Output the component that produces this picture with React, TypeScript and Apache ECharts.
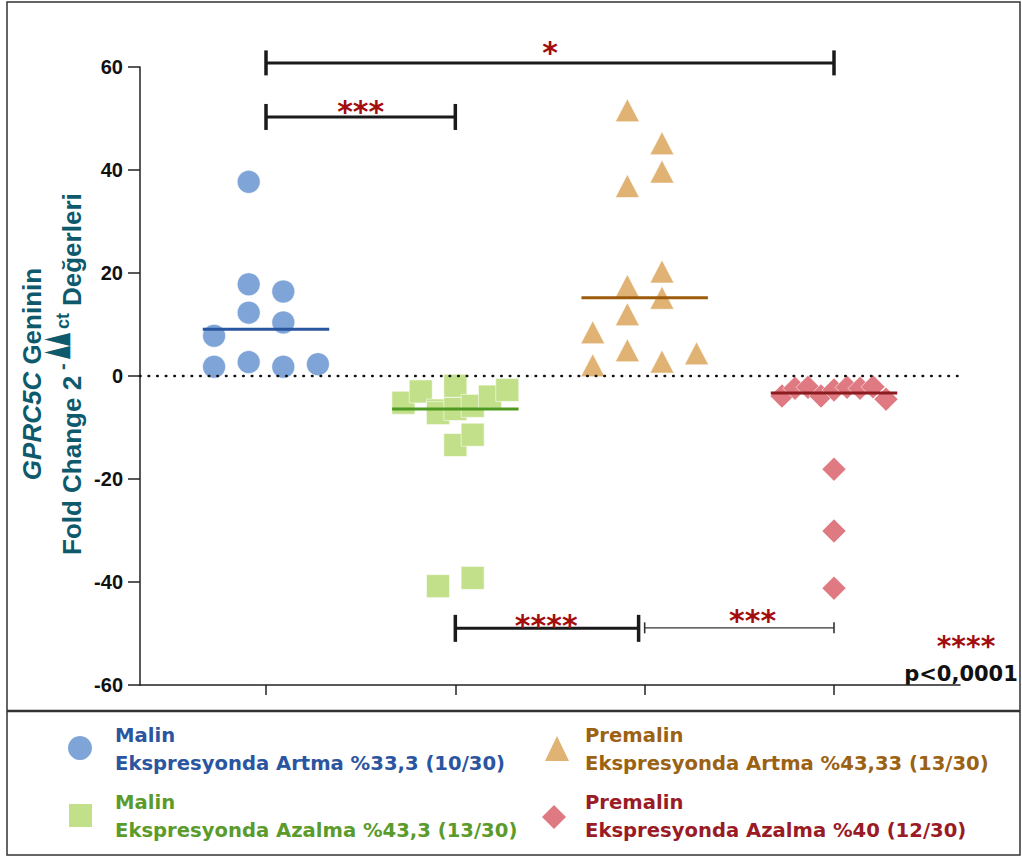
import React, { useEffect, useRef } from "react";
import * as echarts from "echarts";

// Group positions on the horizontal value axis
const GROUP_X = [1, 2, 3, 4];
const X_MIN = 0.3345;
const X_MAX = 4.6655;

// Malin — ekspresyonda artma (circles)
const malinArtma = [37.7, 17.8, 16.4, 12.3, 10.4, 7.8, 1.8, 2.7, 1.8, 2.3];
const malinArtmaSlot = [-1, -1, 1, -1, 1, -3, -3, -1, 1, 3];

// Malin — ekspresyonda azalma (squares)
const malinAzalma = [-5.2, -3.0, -6.7, -7.2, -40.8, -1.9, -6.4, -13.4, -5.8, -11.4, -39.2, -4.0, -2.7];
const malinAzalmaSlot = [-3, -2, -1, -1, -1, 0, 0, 0, 1, 1, 1, 2, 3];

// Premalin — ekspresyonda artma (triangles)
const premalinArtma = [51.6, 45.2, 39.7, 36.9, 20.3, 17.5, 15.2, 12.0, 8.5, 5.0, 2.1, 2.8, 4.4];
const premalinArtmaSlot = [-1, 1, 1, -1, 1, -1, 1, -1, -3, -1, -3, 1, 3];

// Premalin — ekspresyonda azalma (diamonds)
const premalinAzalma = [-3.9, -2.4, -2.2, -3.9, -2.7, -2.2, -2.4, -2.1, -4.5, -18.1, -30.1, -41.2];
const premalinAzalmaSlot = [-4, -3, -2, -1, 0, 1, 2, 3, 4, 0, 0, 0];

// Legend texts
const legendTitles = ["Malin", "Malin", "Premalin", "Premalin"];
const legendDetails = [
  "Ekspresyonda Artma %33,3 (10/30)",
  "Ekspresyonda Azalma %43,3 (13/30)",
  "Ekspresyonda Artma %43,33 (13/30)",
  "Ekspresyonda Azalma %40 (12/30)",
];

// Significance brackets
const bracketFrom = [1, 1, 2, 3];
const bracketTo = [4, 2, 2.968, 4];
const bracketY = [60.8, 50.3, -49.0, -48.9];
const bracketLabelX = [2.5, 1.5, 2.48, 3.57];
const bracketStars = ["*", "***", "****", "***"];
const overallStars = "****";
const overallP = "p<0,0001";

const Y_MIN = -60;
const Y_MAX = 60;
const Y_STEP = 20;

// styling
const bracketTickHalf = [12.5, 13, 13.5, 5.5];
const bracketWidth = [3, 3, 3, 1.4];
const bracketLabelDy = [-10, -5.5, -3, -7];
const STAR_COLOR = "#a30d0d";
const NAME_COLOR = "#0e5a6c";
const LEGEND_FONT = '"DejaVu Sans", sans-serif';
const AXIS_FONT = '"Liberation Sans", Arial, sans-serif';
const LEGEND_SIZE = 19.6;

function median(v: number[]): number {
  const s = [...v].sort((a, b) => a - b);
  const m = Math.floor(s.length / 2);
  return s.length % 2 ? s[m] : (s[m - 1] + s[m]) / 2;
}

const groups = [
  { name: "Malin Artma", values: malinArtma, slots: malinArtmaSlot, step: 0.0914, symbol: "circle", size: 23 as any, fill: "#7ea4d8", line: "#2a56a0", text: "#2b55a0" },
  { name: "Malin Azalma", values: malinAzalma, slots: malinAzalmaSlot, step: 0.0914, symbol: "rect", size: 23 as any, fill: "#c2e08a", line: "#4f9a23", text: "#5b9b2c" },
  { name: "Premalin Artma", values: premalinArtma, slots: premalinArtmaSlot, step: 0.0914, symbol: "triangle", size: [24, 23] as any, fill: "#e0b374", line: "#9c5c0c", text: "#9c6214" },
  { name: "Premalin Azalma", values: premalinAzalma, slots: premalinAzalmaSlot, step: 0.0687, symbol: "diamond", size: 24 as any, fill: "#e07a82", line: "#8a1c20", text: "#9a1b25" },
];

export default function App() {
  const ref = useRef<HTMLDivElement>(null);

  useEffect(() => {
    if (!ref.current) return;
    const chart = echarts.init(ref.current, null, { renderer: "svg" });

    const medianSeries = groups.map((g, gi) => {
      const m = median(g.values);
      return {
        type: "line",
        name: g.name + " medyan",
        data: [
          [GROUP_X[gi] - 0.334, m],
          [GROUP_X[gi] + 0.334, m],
        ],
        symbol: "none",
        lineStyle: { color: g.line, width: 3 },
        silent: true,
      };
    });

    const scatterSeries = groups.map((g, gi) => ({
      type: "scatter",
      name: g.name,
      symbol: g.symbol,
      symbolSize: g.size,
      data: g.values.map((v, i) => [GROUP_X[gi] + g.slots[i] * g.step, v]),
      itemStyle: { color: g.fill, opacity: 1, borderColor: "rgba(255,255,255,0.7)", borderWidth: 0.8 },
    }));

    const brackets = {
      type: "custom",
      clip: false,
      encode: { x: [0, 1, 3], y: 2 },
      data: bracketFrom.map((f, i) => [f, bracketTo[i], bracketY[i], bracketLabelX[i]]),
      renderItem: (params: any, api: any) => {
        const i = params.dataIndex;
        const a = api.coord([api.value(0), api.value(2)]);
        const b = api.coord([api.value(1), api.value(2)]);
        const lx = api.coord([api.value(3), api.value(2)])[0];
        const half = bracketTickHalf[i];
        const lw = bracketWidth[i];
        const stroke = lw < 2 ? "#333" : "#1a1a1a";
        const tw = lw < 2 ? 1.6 : 3.5;
        return {
          type: "group",
          children: [
            { type: "line", shape: { x1: a[0], y1: a[1], x2: b[0], y2: b[1] }, style: { stroke, lineWidth: lw } },
            { type: "line", shape: { x1: a[0], y1: a[1] - half, x2: a[0], y2: a[1] + half }, style: { stroke, lineWidth: tw } },
            { type: "line", shape: { x1: b[0], y1: b[1] - half, x2: b[0], y2: b[1] + half }, style: { stroke, lineWidth: tw } },
            {
              type: "text",
              x: lx,
              y: a[1] + bracketLabelDy[i],
              style: {
                text: bracketStars[i],
                fill: STAR_COLOR,
                fontSize: 30,
                fontWeight: "bold",
                fontFamily: LEGEND_FONT,
                align: "center",
                verticalAlign: "middle",
                textAlign: "center",
                textVerticalAlign: "middle",
              },
            },
          ],
        };
      },
    };

    // legend block drawn below the plot
    const legendCols = [115, 115, 585, 585];
    const legendRows = [735, 802, 735, 802];
    const legendTexts: any[] = [];
    groups.forEach((g, i) => {
      legendTexts.push({
        type: "text",
        x: legendCols[i],
        y: legendRows[i],
        style: { text: legendTitles[i], fill: g.text, fontSize: LEGEND_SIZE, fontWeight: "bold", fontFamily: LEGEND_FONT, align: "left", verticalAlign: "middle" },
      });
      legendTexts.push({
        type: "text",
        x: legendCols[i],
        y: legendRows[i] + 28,
        style: { text: legendDetails[i], fill: g.text, fontSize: LEGEND_SIZE, fontWeight: "bold", fontFamily: LEGEND_FONT, align: "left", verticalAlign: "middle" },
      });
    });

    const rot = Math.PI / 2;
    const nameStyle = { fill: NAME_COLOR, fontWeight: "bold", fontFamily: AXIS_FONT };

    const option: any = {
      animation: false,
      backgroundColor: "#ffffff",
      grid: { left: 140, top: 67, right: 62, bottom: 172, outerBoundsMode: "none" },
      xAxis: {
        type: "value",
        min: X_MIN,
        max: X_MAX,
        splitLine: { show: false },
        axisLine: { show: true, onZero: false, lineStyle: { color: "#222", width: 1.5 } },
        axisTick: { show: true, customValues: GROUP_X, length: 10, lineStyle: { color: "#222", width: 1.5 } },
        axisLabel: { show: false },
      },
      yAxis: {
        type: "value",
        min: Y_MIN,
        max: Y_MAX,
        interval: Y_STEP,
        splitLine: { show: false },
        axisLine: { show: true, lineStyle: { color: "#222", width: 1.5 } },
        axisTick: { show: true, length: 12, lineStyle: { color: "#222", width: 1.5 } },
        axisLabel: { color: "#111", fontSize: 20, fontWeight: "bold", fontFamily: AXIS_FONT, margin: 17 },
      },
      series: [
        {
          type: "line",
          name: "sıfır",
          data: [
            [X_MIN, 0],
            [X_MAX, 0],
          ],
          symbol: "none",
          silent: true,
          lineStyle: { color: "#111", width: 2.6, type: [0.5, 8.1], cap: "round" },
        },
        medianSeries[0],
        medianSeries[1],
        medianSeries[3],
        ...scatterSeries,
        medianSeries[2],
        brackets,
      ],
      graphic: [
        // outer frame and divider
        { type: "rect", shape: { x: 7, y: 2, width: 1013, height: 853 }, style: { fill: "none", stroke: "#333", lineWidth: 1.5 }, silent: true },
        { type: "line", shape: { x1: 7, y1: 711, x2: 1020, y2: 711 }, style: { stroke: "#333", lineWidth: 2.5 }, silent: true },
        // y-axis title, line 1
        {
          type: "text",
          x: 32,
          y: 374,
          rotation: rot,
          style: {
            text: "{i|GPRC5C} Geninin",
            ...nameStyle,
            fontSize: 26,
            align: "center",
            verticalAlign: "middle",
            rich: { i: { fontStyle: "italic", fontWeight: "bold", fontSize: 26, fontFamily: AXIS_FONT, fill: NAME_COLOR } },
          },
        },
        // y-axis title, line 2 with the superscript exponent
        { type: "text", x: 72, y: 555, rotation: rot, style: { text: "Fold Change 2", ...nameStyle, fontSize: 26, align: "left", verticalAlign: "middle" } },
        { type: "text", x: 62, y: 370, rotation: rot, style: { text: "-", ...nameStyle, fontSize: 20, align: "left", verticalAlign: "middle" } },
        { type: "text", x: 54, y: 359, rotation: rot, scaleX: 0.5, style: { text: "▲▲", fill: NAME_COLOR, fontSize: 34, fontFamily: '"DejaVu Sans"', align: "left", verticalAlign: "middle" } },
        { type: "text", x: 63, y: 329, rotation: rot, style: { text: "ct", ...nameStyle, fontSize: 18, align: "left", verticalAlign: "middle" } },
        { type: "text", x: 72, y: 306, rotation: rot, style: { text: "Değerleri", ...nameStyle, fontSize: 26, align: "left", verticalAlign: "middle" } },
        // overall significance note
        { type: "text", x: 966, y: 646, style: { text: overallStars, fill: STAR_COLOR, fontSize: 28, fontWeight: "bold", fontFamily: LEGEND_FONT, align: "center", verticalAlign: "middle" } },
        { type: "text", x: 961, y: 674, style: { text: overallP, fill: "#111", fontSize: 21, fontWeight: "bold", fontFamily: LEGEND_FONT, align: "center", verticalAlign: "middle" } },
        // legend symbols
        { type: "circle", shape: { cx: 80, cy: 748, r: 12 }, style: { fill: groups[0].fill } },
        { type: "rect", shape: { x: 69, y: 804, width: 23, height: 23 }, style: { fill: groups[1].fill } },
        { type: "polygon", shape: { points: [[557, 736], [545, 761], [569, 761]] }, style: { fill: groups[2].fill } },
        { type: "polygon", shape: { points: [[554, 805], [566, 817], [554, 829], [542, 817]] }, style: { fill: groups[3].fill } },
        ...legendTexts,
      ],
    };

    chart.setOption(option);
    return () => chart.dispose();
  }, []);

  return (
    <div
      ref={ref}
      style={{ position: "absolute", left: 0, top: 0, width: 1022, height: 857, background: "#fff" }}
    />
  );
}
